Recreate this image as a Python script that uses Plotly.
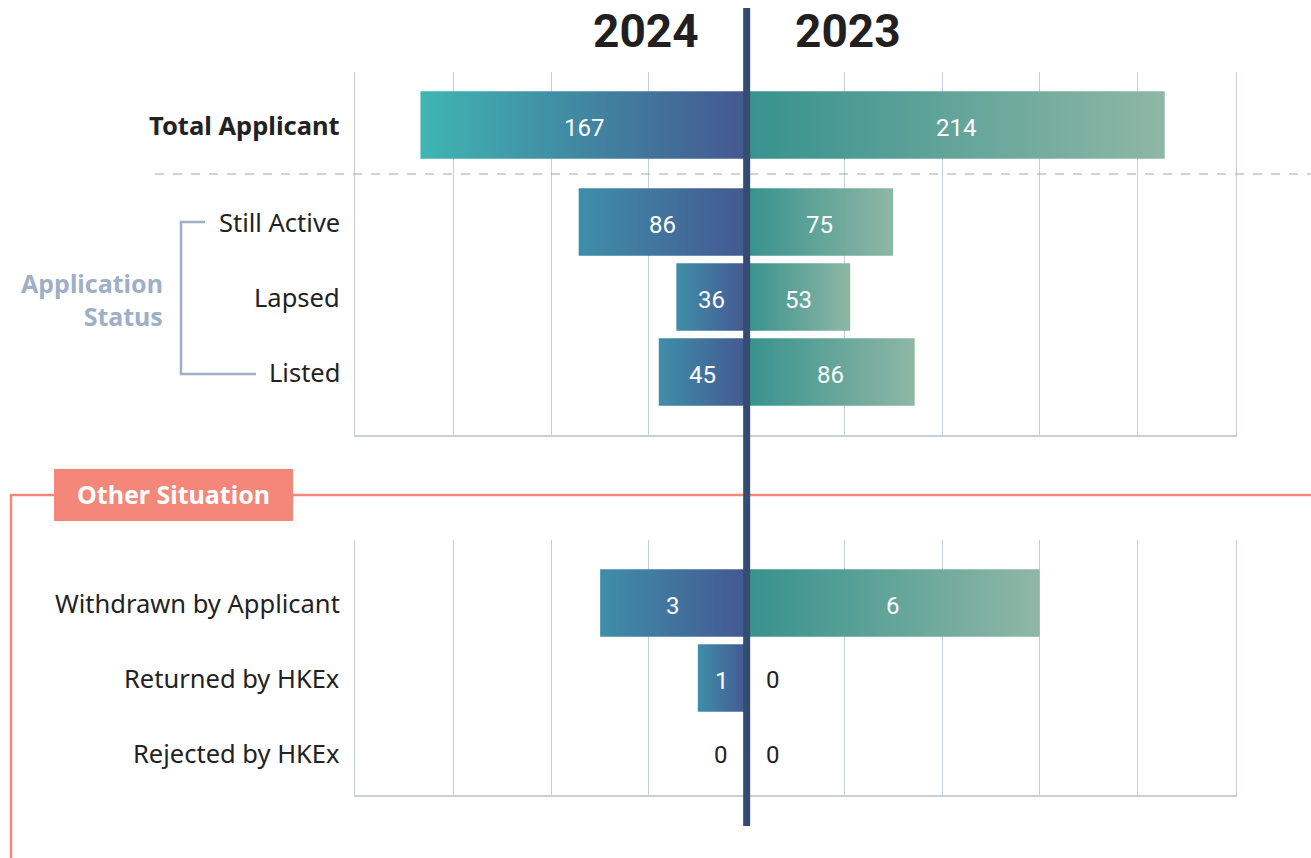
import plotly.graph_objects as go

# ---------------- data ----------------
top_categories = ["Total Applicant", "Still Active", "Lapsed", "Listed"]
top_2024 = [167, 86, 36, 45]
top_2023 = [214, 75, 53, 86]

bottom_categories = ["Withdrawn by Applicant", "Returned by HKEx", "Rejected by HKEx"]
bottom_2024 = [3, 1, 0]
bottom_2023 = [6, 0, 0]

year_labels = ["2024", "2023"]
group_label = "Application<br>Status"
section_label = "Other Situation"

# ---------------- layout constants ----------------
W, H = 1311, 858
def px(x):
    return x / W
def py(y):
    return 1 - y / H

X_L, X_R = 355, 1236
TOP_Y0, TOP_Y1 = 72, 435
BOT_Y0, BOT_Y1 = 540, 795

# y positions of rows (axis units, 1 unit = 75px)
top_pos = [1 - 97 / 75, 1, 2, 3]
bot_pos = [0, 1, 2]
BAR_H = 0.9

C24_TOTAL = ["#3fb5b2", "#445891"]
C24 = ["#3f8ea9", "#445891"]
C23 = ["#37928e", "#8fb7a5"]
GRID = "#c6cfdc"
NAVY = "#334c70"
SALMON = "#f48779"
BLUE_GREY = "#9eafc6"

fig = go.Figure()

def add_bar(xa, ya, v, y, cs, left):
    if v == 0:
        return
    x0, x1 = (-v, 0) if left else (0, v)
    y0, y1 = y - BAR_H / 2, y + BAR_H / 2
    fig.add_trace(go.Scatter(
        x=[x0, x1, x1, x0, x0], y=[y0, y0, y1, y1, y0],
        xaxis=xa, yaxis=ya, mode="lines", line=dict(width=0),
        fill="toself",
        fillgradient=dict(type="horizontal",
                          colorscale=[[0, cs[0]], [1, cs[1]]],
                          start=x0, stop=x1),
        hoverinfo="skip", showlegend=False))

for i, (a, b) in enumerate(zip(top_2024, top_2023)):
    add_bar("x", "y", a, top_pos[i], C24_TOTAL if i == 0 else C24, True)
    add_bar("x", "y", b, top_pos[i], C23, False)
for i, (a, b) in enumerate(zip(bottom_2024, bottom_2023)):
    add_bar("x2", "y2", a, bot_pos[i], C24, True)
    add_bar("x2", "y2", b, bot_pos[i], C23, False)

num_font = dict(family="Roboto", size=24, color="white")
annotations = []

def add_values(xr, yr, vals24, vals23, pos):
    for v, y in zip(vals24, pos):
        if v > 0:
            annotations.append(dict(x=-v / 2, y=y, xref=xr, yref=yr, text=str(v),
                                    showarrow=False, yshift=-3, font=num_font))
        else:
            annotations.append(dict(x=0, y=y, xref=xr, yref=yr, text="0",
                                    showarrow=False, xanchor="right", xshift=-17,
                                    yshift=-2,
                                    font=dict(family="Roboto", size=24, color="#222222")))
    for v, y in zip(vals23, pos):
        if v > 0:
            annotations.append(dict(x=v / 2, y=y, xref=xr, yref=yr, text=str(v),
                                    showarrow=False, yshift=-3, font=num_font))
        else:
            annotations.append(dict(x=0, y=y, xref=xr, yref=yr, text="0",
                                    showarrow=False, xanchor="left", xshift=17,
                                    yshift=-2,
                                    font=dict(family="Roboto", size=24, color="#222222")))

add_values("x", "y", top_2024, top_2023, top_pos)
add_values("x2", "y2", bottom_2024, bottom_2023, bot_pos)

# category labels
lab_font = dict(family="Noto Sans", size=25.5, color="#222222")
for i, (c, y) in enumerate(zip(top_categories, top_pos)):
    t = f"<b>{c}</b>" if i == 0 else c
    annotations.append(dict(x=px(342), y=y, xref="paper", yref="y", text=t,
                            showarrow=False, xanchor="right", font=lab_font))
for c, y in zip(bottom_categories, bot_pos):
    annotations.append(dict(x=px(342), y=y, xref="paper", yref="y2", text=c,
                            showarrow=False, xanchor="right", font=lab_font))

annotations.append(dict(x=px(165), y=py(299), xref="paper", yref="paper",
                        text=f"<b>{group_label}</b>", showarrow=False,
                        xanchor="right", yanchor="middle", align="right",
                        font=dict(family="Noto Sans", size=25, color=BLUE_GREY)))

# headers
for t, xc in zip(year_labels, (646, 848)):
    annotations.append(dict(x=px(xc), y=py(31), xref="paper", yref="paper",
                            text=f"<b>{t}</b>", showarrow=False,
                            xanchor="center", yanchor="middle",
                            font=dict(family="Roboto", size=46, color="#231f20")))

annotations.append(dict(x=px(174), y=py(494), xref="paper", yref="paper",
                        text=f"<b>{section_label}</b>", showarrow=False,
                        xanchor="center", yanchor="middle",
                        font=dict(family="Noto Sans", size=25, color="white")))

shapes = [
    # dashed separator
    dict(type="line", xref="paper", yref="paper", x0=px(155), x1=1,
         y0=py(174), y1=py(174), line=dict(color="#9aa7b8", width=1.2, dash="dash")),
    # bracket
    dict(type="path", xref="paper", yref="paper",
         path=f"M {px(205)} {py(222)} L {px(181)} {py(222)} L {px(181)} {py(374)} L {px(256)} {py(374)}",
         line=dict(color=BLUE_GREY, width=2.5)),
    # salmon frame
    dict(type="path", xref="paper", yref="paper",
         path=f"M 1 {py(495)} L {px(11)} {py(495)} L {px(11)} 0",
         line=dict(color=SALMON, width=2.5)),
    dict(type="rect", xref="paper", yref="paper", x0=px(54), x1=px(293),
         y0=py(521), y1=py(469), fillcolor=SALMON, line=dict(width=0)),
    # center line
    dict(type="line", xref="x", yref="paper", x0=0, x1=0, y0=py(826), y1=py(8),
         line=dict(color=NAVY, width=7)),
]

axis_common = dict(showgrid=True, gridcolor=GRID, gridwidth=1.3, zeroline=False,
                   showticklabels=False, ticks="", showline=True, linecolor=GRID,
                   linewidth=1.5, fixedrange=True)
yaxis_common = dict(showgrid=False, zeroline=False, showticklabels=False,
                    showline=True, linecolor=GRID, linewidth=1.3, mirror=True,
                    ticks="", fixedrange=True)

fig.update_layout(
    width=W, height=H, margin=dict(l=0, r=0, t=0, b=0),
    paper_bgcolor="white", plot_bgcolor="white",
    xaxis=dict(domain=[px(X_L), px(X_R)], range=[-200.5, 250.5], dtick=50,
               tick0=0, anchor="y", **axis_common),
    yaxis=dict(domain=[py(TOP_Y1), py(TOP_Y0)],
               range=[1 + (TOP_Y1 - 222) / 75, 1 - (222 - TOP_Y0) / 75],
               anchor="x", **yaxis_common),
    xaxis2=dict(domain=[px(X_L), px(X_R)], range=[-8.02, 10.02], dtick=2,
                tick0=0, anchor="y2", **axis_common),
    yaxis2=dict(domain=[py(BOT_Y1), py(BOT_Y0)],
                range=[(BOT_Y1 - 603) / 75, -(603 - BOT_Y0) / 75],
                anchor="x2", **yaxis_common),
    annotations=annotations,
    shapes=shapes,
    showlegend=False,
)

fig.write_html("out.html")
